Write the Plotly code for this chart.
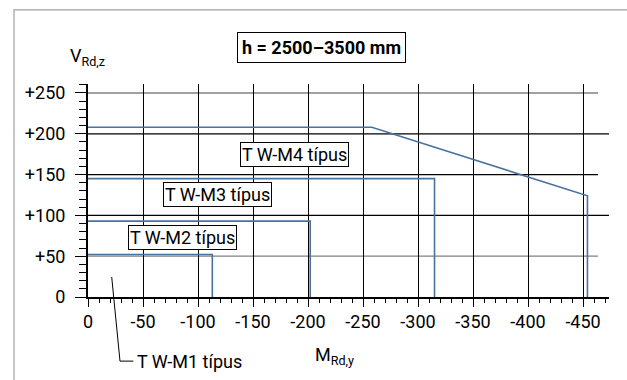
import plotly.graph_objects as go

# ---- data ----
m1_x = [0, -113, -113]
m1_y = [52, 52, 0]
m2_x = [0, -202, -202]
m2_y = [93, 93, 0]
m3_x = [0, -315, -315]
m3_y = [145, 145, 0]
m4_x = [0, -258, -454, -454]
m4_y = [208, 208, 124, 0]

x_ticks = [0, -50, -100, -150, -200, -250, -300, -350, -400, -450]
x_ticktext = ["0", "-50", "-100", "-150", "-200", "-250", "-300", "-350", "-400", "-450"]
y_ticks = [0, 50, 100, 150, 200, 250]
y_ticktext = ["0", "+50", "+100", "+150", "+200", "+250"]

labels = ["T W-M4 típus", "T W-M3 típus", "T W-M2 típus"]
label_x = [-187.7, -118, -85.5]
label_y = [175, 126, 73]

FONT = "Roboto, Liberation Sans, sans-serif"
BLUE = "#4a72a0"

fig = go.Figure()
for xs, ys in [(m1_x, m1_y), (m2_x, m2_y), (m3_x, m3_y), (m4_x, m4_y)]:
    fig.add_trace(go.Scatter(x=xs, y=ys, mode="lines",
                             line=dict(color=BLUE, width=1.6),
                             showlegend=False, hoverinfo="skip"))

XMAX = -473.6
shapes = []
# horizontal grid lines
hgrid = [(250, "#808080", -463.6), (200, "black", XMAX), (150, "black", -463.6),
         (100, "black", XMAX), (50, "#808080", -463.6)]
for yv, col, xe in hgrid:
    shapes.append(dict(type="line", xref="x", yref="y", x0=0, x1=xe, y0=yv, y1=yv,
                       line=dict(color=col, width=1.3), layer="below"))
# outer frame
shapes.append(dict(type="rect", xref="paper", yref="paper", x0=-0.142, x1=1.2,
                   y0=-0.6, y1=1.348, line=dict(color="#a0a0a0", width=1.2)))
# leader line for M1 label
shapes.append(dict(type="path", xref="paper", yref="paper",
                   path="M 0.0455 0.094 L 0.0614 -0.301 L 0.087 -0.301",
                   line=dict(color="black", width=1)))
fig.update_layout(shapes=shapes)

ann = []
for t, ax_, ay_ in zip(labels, label_x, label_y):
    ann.append(dict(x=ax_, y=ay_, xref="x", yref="y", text=t, showarrow=False,
                    xanchor="center", yanchor="middle",
                    font=dict(family=FONT, size=18, color="black"),
                    bgcolor="white", bordercolor="black", borderwidth=1, borderpad=1))
ann.append(dict(x=0.09, y=-0.301, xref="paper", yref="paper", text="T W-M1 típus",
                showarrow=False, xanchor="left", yanchor="middle",
                font=dict(family=FONT, size=18, color="black")))
ann.append(dict(x=0.449, y=1.172, xref="paper", yref="paper",
                text="<b>h = 2500–3500 mm</b>", showarrow=False,
                xanchor="center", yanchor="middle",
                font=dict(family=FONT, size=18, color="black"),
                bgcolor="white", bordercolor="black", borderwidth=1, borderpad=4))
ann.append(dict(x=-0.038, y=1.127, xref="paper", yref="paper",
                text="V<sub>Rd,z</sub>", showarrow=False, xanchor="left", yanchor="middle",
                font=dict(family=FONT, size=18, color="black")))
ann.append(dict(x=0.432, y=-0.279, xref="paper", yref="paper",
                text="M<sub>Rd,y</sub>", showarrow=False, xanchor="left", yanchor="middle",
                font=dict(family=FONT, size=18, color="black")))
fig.update_layout(annotations=ann)

fig.update_xaxes(range=[0, XMAX], tickvals=x_ticks, ticktext=x_ticktext,
                 showgrid=True, gridcolor="black", gridwidth=1.3,
                 showline=True, linecolor="black", linewidth=1.5,
                 ticks="outside", ticklen=8, tickcolor="black", tickwidth=1.3,
                 minor=dict(dtick=10, ticks="outside", ticklen=4, tickcolor="black",
                            tickwidth=1, showgrid=False),
                 zeroline=False, automargin=False,
                 tickfont=dict(family=FONT, size=18, color="black"))
fig.update_yaxes(range=[0, 261], tickvals=y_ticks, ticktext=y_ticktext,
                 showgrid=False, showline=True, linecolor="black", linewidth=2,
                 ticks="outside", ticklen=11, tickcolor="black", tickwidth=1.3,
                 minor=dict(dtick=10, ticks="outside", ticklen=7, tickcolor="black",
                            tickwidth=1, showgrid=False),
                 zeroline=False, ticklabelstandoff=6, automargin=False,
                 tickfont=dict(family=FONT, size=18, color="black"))

fig.update_layout(width=627, height=380, plot_bgcolor="white", paper_bgcolor="white",
                  margin=dict(l=88, r=18, t=84, b=83.3), font=dict(family=FONT))
fig.write_html("out.html", config={"displayModeBar": False},
               post_script="document.body.style.margin='0';document.body.style.padding='0';")
